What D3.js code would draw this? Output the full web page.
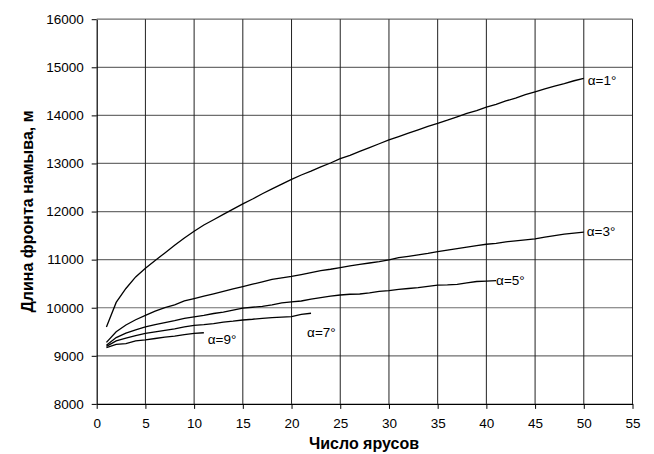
<!DOCTYPE html>
<html>
<head>
<meta charset="utf-8">
<script src="https://cdn.jsdelivr.net/npm/d3@7"></script>
<style>
  body { margin: 0; background: #fff; }
  text { font-family: Arial, "Liberation Sans", sans-serif; }
</style>
</head>
<body>
<svg id="chart" width="654" height="454"></svg>
<script>
// Number of tiers (x) for each curve
const tiers1 = d3.range(1, 51);
const tiers3 = d3.range(1, 51);
const tiers5 = d3.range(1, 42);
const tiers7 = d3.range(1, 23);
const tiers9 = d3.range(1, 12);

// Wash-front length, m, for slope angles 1°, 3°, 5°, 7°, 9°
const front1 = [9600, 10110, 10400, 10640, 10820, 10980, 11140, 11300, 11450, 11590,
  11720, 11830, 11940, 12050, 12160, 12260, 12370, 12470, 12570, 12670,
  12760, 12840, 12930, 13010, 13100, 13170, 13250, 13330, 13410, 13490,
  13560, 13630, 13700, 13770, 13835, 13900, 13970, 14040, 14100, 14170,
  14230, 14300, 14360, 14430, 14490, 14550, 14610, 14660, 14720, 14770];
const front3 = [9280, 9500, 9640, 9750, 9840, 9930, 10000, 10060, 10140, 10190,
  10240, 10290, 10340, 10390, 10440, 10490, 10540, 10590, 10620, 10650,
  10690, 10730, 10770, 10800, 10835, 10870, 10900, 10930, 10960, 10995,
  11040, 11070, 11100, 11130, 11165, 11200, 11230, 11260, 11290, 11320,
  11340, 11370, 11390, 11410, 11430, 11470, 11500, 11530, 11550, 11570];
const front5 = [9220, 9380, 9470, 9540, 9600, 9650, 9690, 9730, 9780, 9810,
  9840, 9880, 9910, 9950, 9990, 10010, 10030, 10060, 10100, 10120,
  10140, 10180, 10210, 10240, 10265, 10280, 10285, 10310, 10340, 10355,
  10380, 10400, 10420, 10445, 10470, 10475, 10485, 10515, 10545, 10555, 10565];
const front7 = [9195, 9310, 9370, 9420, 9465, 9500, 9530, 9560, 9600, 9635,
  9650, 9670, 9700, 9720, 9745, 9760, 9780, 9795, 9805, 9815, 9860, 9885];
const front9 = [9170, 9240, 9255, 9310, 9330, 9360, 9390, 9410, 9440, 9465, 9480];

const seriesLabels = ["α=1°", "α=3°", "α=5°", "α=7°", "α=9°"];

const xTicks = d3.range(0, 56, 5);
const yTicks = d3.range(8000, 16001, 1000);

const svg = d3.select("#chart");
const W = 654, H = 454;
const margin = { left: 96.7, right: W - 632.5, top: 19.2, bottom: H - 403.9 };

const x = d3.scaleLinear().domain([0, 55]).range([margin.left, W - margin.right]);
const y = d3.scaleLinear().domain([8000, 16000]).range([H - margin.bottom, margin.top]);

// Horizontal grid lines
svg.append("g").selectAll("line").data(yTicks.slice(1)).join("line")
  .attr("x1", x(0)).attr("x2", x(55))
  .attr("y1", d => y(d)).attr("y2", d => y(d))
  .attr("stroke", "#6e6e6e").attr("stroke-width", 1.2);

// Vertical grid lines
svg.append("g").selectAll("line").data(xTicks.slice(1)).join("line")
  .attr("x1", d => x(d)).attr("x2", d => x(d))
  .attr("y1", y(8000)).attr("y2", y(16000))
  .attr("stroke", "#222").attr("stroke-width", 1);

// Axes
const xAxis = svg.append("g")
  .attr("transform", `translate(0,${y(8000)})`)
  .call(d3.axisBottom(x).tickValues(xTicks).tickSize(5).tickSizeOuter(0).tickPadding(10));
const yAxis = svg.append("g")
  .attr("transform", `translate(${x(0)},0)`)
  .call(d3.axisLeft(y).tickValues(yTicks).tickSize(5).tickSizeOuter(0).tickPadding(8).tickFormat(d3.format("d")));

[xAxis, yAxis].forEach(g => {
  g.select(".domain").attr("stroke", "#000").attr("stroke-width", 1.2);
  g.selectAll(".tick line").attr("stroke", "#000");
  g.selectAll(".tick text").attr("font-family", "Arial, 'Liberation Sans', sans-serif")
    .attr("font-size", 13.5).attr("fill", "#000");
});

// Curves
const line = d3.line().x(d => x(d[0])).y(d => y(d[1]));
const curves = [
  [tiers1, front1], [tiers3, front3], [tiers5, front5], [tiers7, front7], [tiers9, front9]
].map(([t, v]) => t.map((d, i) => [d, v[i]]));

svg.append("g").selectAll("path").data(curves).join("path")
  .attr("d", line)
  .attr("fill", "none").attr("stroke", "#000").attr("stroke-width", 1.3);

// Curve labels
const labelPos = [
  { x: 50.4, y: 14720 },
  { x: 50.3, y: 11590 },
  { x: 41.0, y: 10570 },
  { x: 21.6, y: 9490 },
  { x: 11.4, y: 9350 }
];
svg.append("g").selectAll("text").data(seriesLabels).join("text")
  .attr("x", (d, i) => x(labelPos[i].x))
  .attr("y", (d, i) => y(labelPos[i].y))
  .attr("dy", "0.35em")
  .attr("font-size", 13.5)
  .text(d => d);

// Axis titles
svg.append("text")
  .attr("x", 364).attr("y", 449)
  .attr("text-anchor", "middle").attr("font-weight", "bold").attr("font-size", 16)
  .text("Число ярусов");
svg.append("text")
  .attr("transform", `translate(32.5,${(y(8000) + y(16000)) / 2}) rotate(-90)`)
  .attr("text-anchor", "middle").attr("font-weight", "bold").attr("font-size", 16)
  .text("Длина фронта намыва, м");
</script>
</body>
</html>
